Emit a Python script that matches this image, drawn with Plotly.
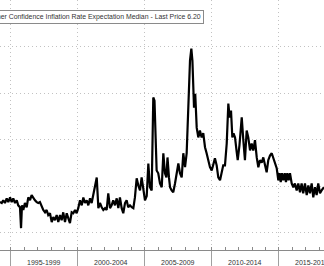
import plotly.graph_objects as go

# Decimal-year dates and values
dates = [
    1994.18, 1994.31, 1994.42, 1994.55, 1994.68, 1994.80, 1994.93, 1995.05, 1995.17, 1995.30,
    1995.43, 1995.54, 1995.67, 1995.75, 1995.82, 1995.92, 1996.04, 1996.17, 1996.29, 1996.42,
    1996.54, 1996.66, 1996.79, 1996.92, 1997.04, 1997.16, 1997.29, 1997.41, 1997.54, 1997.66,
    1997.78, 1997.91, 1998.04, 1998.16, 1998.28, 1998.41, 1998.53, 1998.66, 1998.78, 1998.90,
    1999.03, 1999.16, 1999.28, 1999.40, 1999.53, 1999.65, 1999.78, 1999.90, 2000.02, 2000.15,
    2000.28, 2000.40, 2000.52, 2000.65, 2000.77, 2000.90, 2001.02, 2001.14, 2001.27, 2001.40,
    2001.52, 2001.64, 2001.77, 2001.89, 2002.02, 2002.14, 2002.26, 2002.39, 2002.51, 2002.63,
    2002.76, 2002.89, 2003.01, 2003.13, 2003.26, 2003.38, 2003.51, 2003.63, 2003.75, 2003.88,
    2004.01, 2004.13, 2004.25, 2004.38, 2004.50, 2004.63, 2004.75, 2004.87, 2005.00, 2005.13,
    2005.25, 2005.37, 2005.50, 2005.62, 2005.71, 2005.87, 2005.99, 2006.12, 2006.25, 2006.37,
    2006.49, 2006.60, 2006.68, 2006.79, 2006.87, 2006.99, 2007.11, 2007.24, 2007.37, 2007.49,
    2007.61, 2007.74, 2007.86, 2007.99, 2008.11, 2008.23, 2008.36, 2008.46, 2008.54, 2008.66,
    2008.75, 2008.86, 2008.98, 2009.10, 2009.23, 2009.35, 2009.48, 2009.60, 2009.72, 2009.85,
    2009.98, 2010.10, 2010.22, 2010.35, 2010.47, 2010.60, 2010.72, 2010.84, 2010.97, 2011.10,
    2011.22, 2011.32, 2011.42, 2011.52, 2011.61, 2011.72, 2011.83, 2011.92, 2012.05, 2012.22,
    2012.34, 2012.46, 2012.59, 2012.71, 2012.84, 2012.96, 2013.08, 2013.21, 2013.34, 2013.46,
    2013.58, 2013.71, 2013.83, 2013.96, 2014.08, 2014.20, 2014.33, 2014.46, 2014.58, 2014.70,
    2014.83, 2014.95, 2015.04, 2015.13, 2015.22, 2015.32, 2015.43, 2015.52, 2015.62, 2015.72,
    2015.82, 2015.95, 2016.07, 2016.19, 2016.32, 2016.44, 2016.57, 2016.69, 2016.81, 2016.94,
    2017.07, 2017.19, 2017.31, 2017.44, 2017.56, 2017.69, 2017.81, 2017.93, 2018.06, 2018.18,
    2018.36,
]

values = [
    3.66, 3.64, 3.70, 3.64, 3.74, 3.66, 3.76, 3.66, 3.74, 3.64,
    3.70, 3.59, 3.55, 3.10, 3.59, 3.49, 3.64, 3.55, 3.76, 3.70,
    3.81, 3.74, 3.70, 3.66, 3.64, 3.66, 3.55, 3.49, 3.44, 3.49,
    3.38, 3.42, 3.23, 3.34, 3.27, 3.38, 3.23, 3.38, 3.27, 3.44,
    3.23, 3.42, 3.31, 3.21, 3.44, 3.42, 3.49, 3.42, 3.53, 3.70,
    3.59, 3.76, 3.64, 3.70, 3.59, 3.74, 3.64, 3.81, 3.96, 4.19,
    3.53, 3.64, 3.55, 3.49, 3.53, 3.49, 3.85, 3.53, 3.59, 3.70,
    3.59, 3.74, 3.53, 3.76, 3.53, 3.42, 3.64, 3.70, 3.55, 3.59,
    3.55, 3.53, 3.76, 4.17, 4.02, 3.91, 4.19, 3.91, 3.70, 3.79,
    4.49, 3.98, 3.91, 5.91, 5.84, 4.34, 4.28, 4.06, 3.98, 4.71,
    4.28, 4.19, 4.62, 4.19, 3.98, 3.91, 3.87, 4.06, 4.28, 4.49,
    4.28, 4.19, 4.71, 4.41, 4.71, 5.69, 6.70, 6.96, 6.70, 5.69,
    5.99, 5.26, 5.05, 5.20, 5.05, 5.14, 4.84, 4.71, 4.56, 4.41,
    4.34, 4.45, 4.60, 4.45, 4.19, 4.13, 4.28, 4.45, 4.45, 4.92,
    5.78, 5.48, 5.63, 5.05, 5.14, 5.05, 4.77, 4.56, 4.88, 5.48,
    4.99, 4.56, 5.20, 5.05, 4.77, 4.92, 4.77, 4.99, 4.62, 4.41,
    4.56, 4.51, 4.62, 4.41, 4.30, 4.56, 4.66, 4.71, 4.62, 4.49,
    4.39, 4.13, 4.28, 4.09, 4.28, 4.13, 4.28, 4.09, 4.28, 4.13,
    4.28, 4.06, 3.98, 4.06, 3.91, 4.06, 3.87, 4.06, 3.85, 4.06,
    3.81, 4.02, 3.85, 4.06, 3.76, 3.98, 3.81, 4.06, 3.85, 3.91,
    3.98,
]

period_bounds = [1995, 2000, 2005, 2010, 2015]
period_labels = ["1995-1999", "2000-2004", "2005-2009", "2010-2014", "2015-2019"]
y_grid = [3, 4, 5, 6, 7, 8]
title_text = "Consumer Confidence Inflation Rate Expectation Median - Last Price 6.20"

FONT = "Liberation Sans, Arial, sans-serif"
GRID = "#c2c2c2"

fig = go.Figure()
fig.add_trace(go.Scatter(
    x=dates, y=values, mode="lines",
    line=dict(color="#000000", width=2.2),
    showlegend=False, hoverinfo="skip",
))

fig.update_layout(
    width=324, height=266,
    margin=dict(l=0, r=0, t=0, b=16),
    paper_bgcolor="#ffffff", plot_bgcolor="#ffffff",
    xaxis=dict(
        range=[1994.18, 2018.36],
        tickmode="array", tickvals=period_bounds, showticklabels=False,
        ticks="outside", ticklen=16, tickcolor="#a0a0a0", tickwidth=1,
        showgrid=True, gridcolor=GRID, griddash="1px,3px", gridwidth=1,
        showline=True, linecolor="#8a8a8a", linewidth=1,
        zeroline=False,
        minor=dict(dtick=1, tick0=1995, ticks="inside", ticklen=3,
                   tickcolor="#8a8a8a", showgrid=False),
    ),
    yaxis=dict(
        range=[2.63, 8.005],
        tickmode="array", tickvals=y_grid, showticklabels=False,
        showgrid=True, gridcolor=GRID, griddash="1px,3px", gridwidth=1,
        zeroline=False, showline=False, ticks="",
    ),
)

for b, lab in zip(period_bounds, period_labels):
    fig.add_annotation(
        x=b + 2.5, xref="x", y=0, yref="paper",
        yanchor="middle", yshift=-12, showarrow=False,
        text=lab, font=dict(family=FONT, size=7, color="#333333"),
    )

fig.add_annotation(
    x=204 / 324, xref="paper", xanchor="right",
    y=(250 - 17) / 250, yref="paper", yanchor="middle",
    showarrow=False, text=title_text,
    font=dict(family=FONT, size=6.9, color="#333333"),
    bgcolor="#ffffff", bordercolor="#8a8a8a", borderwidth=1, borderpad=2,
)

fig.write_html("out.html")
